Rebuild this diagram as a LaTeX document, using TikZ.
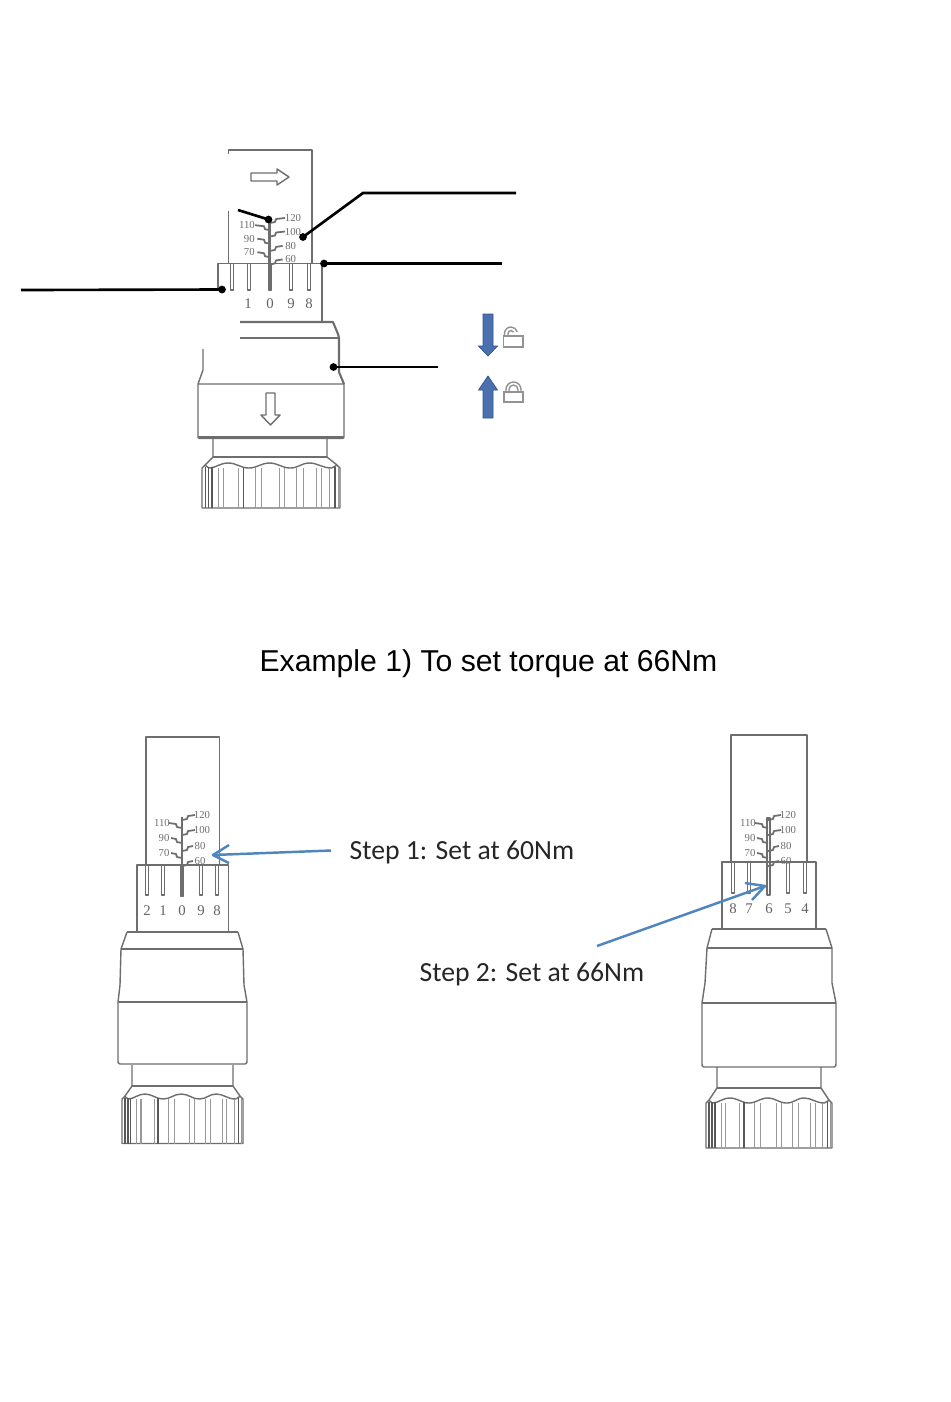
\documentclass[tikz,border=0pt]{standalone}
\usepackage{fontspec}
\setmainfont{Liberation Sans}
\newfontfamily\stepfont{Carlito}
\newfontfamily\dialfont{Liberation Serif}
\definecolor{ink}{HTML}{6E6E6E}
\definecolor{bluearrow}{HTML}{4F86BE}
\definecolor{bluefill}{HTML}{4A70AD}
\definecolor{bluedark}{HTML}{2F5597}
\tikzset{
  part/.style={draw=ink,line width=0.4pt,line join=round},
  heavy/.style={draw=ink,line width=0.6pt,line join=round},
  ribheavy/.style={draw=ink!80!black,line width=0.45pt},
  fine/.style={draw=ink!70,line width=0.3pt},
  callout/.style={draw=black,line width=0.75pt},
  dot/.style={circle,fill=black,inner sep=0pt,minimum size=2.2pt},
  hint/.style={draw=bluearrow,line width=0.7pt,line join=round},
  dialtxt/.style={text=ink,inner sep=0pt,font=\dialfont\fontsize{3.05}{4}\selectfont},
  digit/.style={text=ink!90!black,inner sep=0pt,font=\dialfont\fontsize{4.2}{5}\selectfont},
  steptxt/.style={text=black!85,inner sep=0pt,anchor=base west,font=\stepfont\fontsize{7.87}{9}\selectfont},
  titletxt/.style={text=black,inner sep=0pt,anchor=base,font=\fontsize{8.58}{10}\selectfont},
  bluearr/.style={fill=bluefill,draw=bluedark,line width=0.2pt},
  lock/.style={draw=ink!75,line width=0.4pt},
}
% dial scale: #1 spine x, #2 sleeve edge y, #3 vertical factor, #4 horizontal factor
\newcommand{\dialmarks}[4]{%
  \begin{scope}[shift={(#1,#2)}]
    \foreach \lab/\dx/\dy in {120/20/-50,100/20/-35,80/18/-19,60/18/-4}{
      \node[dialtxt] at ({\dx*#4},{\dy*#3}) {\lab};
      \draw[part,line width=0.5pt] (0,{\dy*#3+5}) -- (5,{\dy*#3+4}) -- (6,{\dy*#3+1}) -- ({(\dx-7)*#4},{\dy*#3});
    }
    \foreach \lab/\dx/\dy in {110/-20/-42,90/-18/-27,70/-18/-12}{
      \node[dialtxt] at ({\dx*#4},{\dy*#3}) {\lab};
      \draw[part,line width=0.5pt] (0,{\dy*#3+5}) -- (-5,{\dy*#3+4}) -- (-6,{\dy*#3+1}) -- ({(\dx+7)*#4},{\dy*#3});
    }
  \end{scope}}
\newcommand{\tubetick}[3]{\draw[part] (#1-1.5,#2) rectangle (#1+1.5,#3);}
% nut: #1 left, #2 right, #3 neck left, #4 neck right, #5 neck top, #6 chamfer y, #7 nut top, #8 bottom
\newcommand{\nut}[8]{%
  \draw[part] (#3,#5) -- (#3,#6) -- (#1+3,#7) -- (#1,#7+3) -- (#1,#8) -- (#2,#8) -- (#2,#7+3) -- (#2-3,#7) -- (#4,#6) -- (#4,#5);
  \draw[heavy] (#3,#6) -- (#4,#6);
  \pgfmathsetmacro\nutu{(#2-#1)/100*0.01}
  \begin{scope}[shift={(#1,#7)},x=\nutu cm]
    \draw[part] (2,0) -- (5,3)
      .. controls (10,3) and (13,-2) .. (19,-2) .. controls (25,-2) and (28,3) .. (34,3)
      .. controls (40,3) and (43,-2) .. (49,-2) .. controls (55,-2) and (58,3) .. (64,3)
      .. controls (70,3) and (72,-2) .. (78,-2) .. controls (84,-2) and (87,3) .. (94,3) -- (98,0);
    \foreach \r in {12,15.7,26.5,38.5,43.4,56,60,68.7,73.5,83,86.7,92.8,98.8}
      \draw[fine] (\r,3) -- (\r,#8-#7);
    \foreach \r in {2.4,4.8,7.2,30,96.4}
      \draw[ribheavy] (\r,2) -- (\r,#8-#7);
  \end{scope}}
\begin{document}
\begin{tikzpicture}[x=0.01cm,y=-0.01cm]
\useasboundingbox (0,0) rectangle (950,1402);
\fill[white] (0,0) rectangle (950,1402);

% ===== top drawing =====
\draw[part] (228.5,154) -- (228.5,150) -- (312,150) -- (312,263);
\draw[part] (228.5,211) -- (228.5,263);
\draw[part] (218,290) -- (218,263.5) -- (323,263.5);
\draw[part] (322,263.5) -- (322,322);
\draw[part] (251,173) -- (277,173) -- (277,169) -- (289,177) -- (277,185) -- (277,181) -- (251,181) -- cycle;
\draw[heavy] (269.5,220) -- (269.5,290);
\foreach \t in {232,249,291,309} {\tubetick{\t}{263.5}{290}}
\tubetick{270}{263.5}{290}
\dialmarks{270}{263}{0.9}{1.15}
\foreach \t/\n in {248/1,270/0,291/9,309/8} {\node[digit] at (\t,304) {\n};}
\draw[heavy] (240,322) -- (333,322) -- (338,334) -- (339,338) -- (339,372) -- (344,384);
\draw[part] (240,338) -- (339,338);
\draw[part] (203,349) -- (203,370) -- (198,384) -- (344,384) -- (344,436) .. controls (344,438) .. (342,438.5) -- (200,438.5) .. controls (198,438) .. (198,436) -- (198,384);
\draw[heavy] (199,437.5) -- (343,437.5);
\draw[part] (266,393) -- (275,393) -- (275,415) -- (280,415) -- (270.5,425) -- (261,415) -- (266,415) -- cycle;
\nut{202}{340}{213}{327}{439}{457}{465}{508}

\draw[bluearr] (483,314) -- (493,314) -- (493,346) -- (497.5,346) -- (488,356) -- (478.5,346) -- (483,346) -- cycle;
\draw[bluearr] (483,418) -- (493,418) -- (493,390) -- (497.5,390) -- (488,376) -- (478.5,390) -- (483,390) -- cycle;
\draw[lock] (503.5,336) rectangle (523,347);
\draw[lock] (504.5,336) -- (504.5,333.5) arc (180:345:6.5);
\draw[lock] (508,336) -- (508,333.5) arc (180:330:3);
\draw[lock] (504,392) rectangle (523,402);
\draw[lock] (506,392) -- (506,389.5) arc (180:360:7.5) -- (521,392);
\draw[lock] (509,392) -- (509,389.5) arc (180:360:4.5) -- (518,392);

% callouts
\node[dot] (d1) at (268.5,219.5) {};
\coordinate (c1) at (238,210);
\draw[callout] (d1.center) -- (c1);
\node[dot] (d2) at (303,237) {};
\coordinate (c2a) at (363,193);
\coordinate (c2b) at (516,193);
\draw[callout] (d2.center) -- (c2a) -- (c2b);
\node[dot] (d3) at (324,263.5) {};
\coordinate (c3) at (502,263.5);
\draw[callout] (d3.center) -- (c3);
\node[dot] (d4) at (222,289.5) {};
\coordinate (c4) at (21,290);
\draw[callout] (d4.center) -- (c4);
\node[dot] (d5) at (333.5,367) {};
\coordinate (c5) at (438,367);
\draw[callout] (d5.center) -- (c5);

\node[titletxt] (title) at (488.5,671) {Example 1) To set torque at 66Nm};

% ===== bottom left =====
\draw[part] (146,865) -- (146,737) -- (219.5,737) -- (219.5,865);
\draw[part] (137,932) -- (137,865) -- (228.5,865) -- (228.5,932);
\draw[heavy] (182,817) -- (182,896);
\foreach \t in {147,163,201,217} {\tubetick{\t}{865}{895}}
\tubetick{182}{865}{896}
\dialmarks{182}{865}{1}{1}
\foreach \t/\n in {147/2,163/1,182/0,201/9,217/8} {\node[digit] at (\t,911) {\n};}
\draw[heavy] (127,932) -- (238,932);
\draw[part] (127,932) -- (121,949) -- (120,985) -- (118,1002) -- (118,1061) .. controls (118,1063) .. (120,1064) -- (245,1064) .. controls (247,1063) .. (247,1061) -- (247,1002) -- (244,985) -- (243,949) -- (238,932);
\draw[heavy] (121,949) -- (243,949);
\draw[part] (118,1002) -- (247,1002);
\nut{122}{243}{132}{233}{1065}{1086}{1096}{1143.5}

\coordinate (s1a) at (331,850.5);
\coordinate (s1t) at (213,855);
\coordinate (s1b) at (229,845);
\coordinate (s1c) at (229,863);
\draw[hint] (s1a) -- (s1t);
\draw[hint] (s1b) -- (s1t) -- (s1c);
\node[steptxt] (step1) at (349,859) {Step 1: Set at 60Nm};

% ===== bottom right =====
\draw[part] (731,862) -- (731,735) -- (807,735) -- (807,862);
\draw[part] (722,930) -- (722,862) -- (816,862) -- (816,930);
\draw[part] (767,818) rectangle (770,895);
\foreach \t in {733,749,788,805} {\tubetick{\t}{862}{893}}
\dialmarks{768}{865}{1}{1}
\foreach \t/\n in {733/8,749/7,769/6,788/5,805/4} {\node[digit] at (\t,908.5) {\n};}
\draw[part] (712,929) -- (826,929);
\draw[part] (712,929) -- (707,948) -- (705,983) -- (702,1003) -- (702,1064) .. controls (702,1066) .. (704,1067) -- (834,1067) .. controls (836,1066) .. (836,1064) -- (836,1003) -- (832,983) -- (832,948) -- (826,929);
\draw[part] (707,948) -- (832,948);
\draw[part] (702,1003) -- (836,1003);
\nut{706}{832}{717}{821}{1067}{1088}{1100}{1148}

\coordinate (s2a) at (597,946);
\coordinate (s2t) at (765,886);
\coordinate (s2b) at (745,883);
\coordinate (s2c) at (752,900);
\draw[hint] (s2a) -- (s2t);
\draw[hint] (s2b) -- (s2t) -- (s2c);
\node[steptxt] (step2) at (419,981) {Step 2: Set at 66Nm};
\end{tikzpicture}
\end{document}
